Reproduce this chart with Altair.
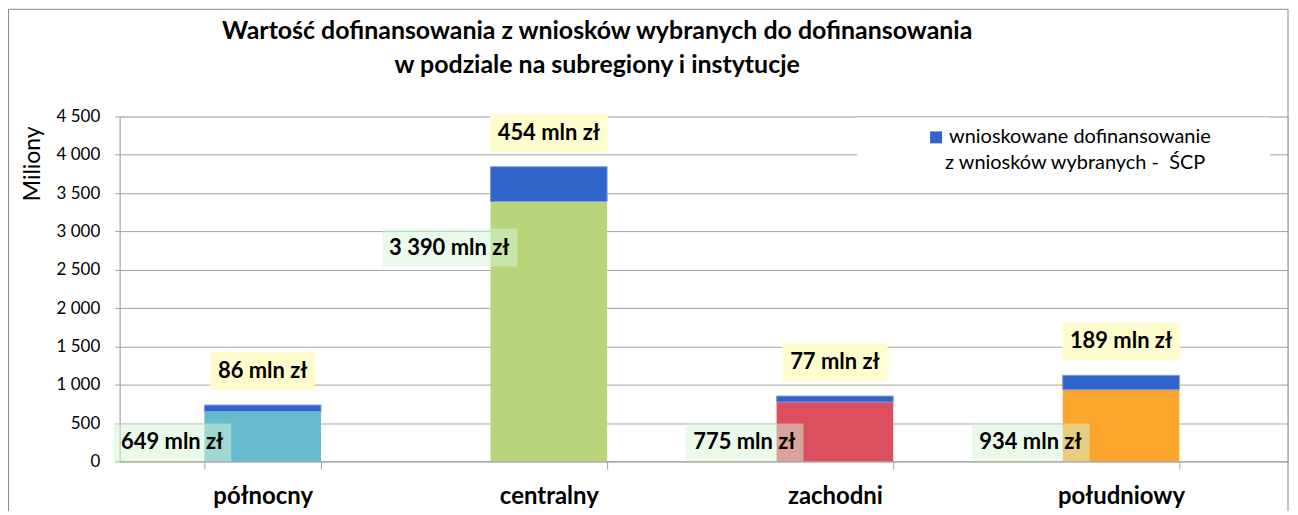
import altair as alt
import pandas as pd
import numpy as np

# ---------------- data ----------------
categories = ["północny", "centralny", "zachodni", "południowy"]
base_values = [649, 3390, 775, 934]      # mln zł
scp_values = [86, 454, 77, 189]          # wnioskowane dofinansowanie ŚCP, mln zł
y_ticks = [0, 500, 1000, 1500, 2000, 2500, 3000, 3500, 4000, 4500]

title_lines = ["Wartość dofinansowania z wniosków wybranych do dofinansowania",
               "w podziale na subregiony i instytucje"]
legend_lines = ["wnioskowane dofinansowanie", "z wniosków wybranych -\u00a0 ŚCP"]
y_title = "Miliony"

# ---------------- styles ----------------
palette = ["#67BACD", "#BAD47A", "#DC4F5F", "#FBA52C"]
BLUE = "#3164CB"
GRID = "#A3A3A3"
FONT = "Lato"
W, H = 1172, 346
LBL_SIZE = 22

# band layout: step 287 px, bars 117 px wide, first band boundary on the y axis
STEP, BAR_W = 287, 117
PAD_INNER = 1 - BAR_W / STEP
PAD_OUTER = (W / STEP - (len(categories) - PAD_INNER)) / 2
_left_over = W - STEP * (len(categories) - PAD_INNER)
ALIGN = (PAD_INNER * STEP / 2) / _left_over

CHAR_EM = {"m": 0.87, "l": 0.27, "n": 0.59, "z": 0.46, "ł": 0.31, " ": 0.2}


def text_w(s, size):
    return sum(CHAR_EM.get(c, 0.58) for c in s) * size


def fmt(v):
    return f"{v:,}".replace(",", " ") + " mln zł"


base = np.array(base_values)
scp = np.array(scp_values)
df = pd.DataFrame({
    "category": categories,
    "base": base,
    "top": base + scp,
    "base_lbl": [fmt(v) for v in base_values],
    "scp_lbl": [fmt(v) for v in scp_values],
})
df["base_anchor"] = np.where(df["base"] > 1500, df["base"] * 0.75, 0)

BOX_H = 38
b_right = -BAR_W / 2 + 27


def bottom_path(s):
    w = text_w(s, LBL_SIZE) + 16
    r, l = b_right, b_right - w
    return f"M{l:.1f},{-BOX_H}L{r:.1f},{-BOX_H}L{r:.1f},0L{l:.1f},0Z"


def top_path(s):
    w = text_w(s, LBL_SIZE) + 16
    l, r = -w / 2, w / 2
    return f"M{l:.1f},-53L{r:.1f},-53L{r:.1f},-15L{l:.1f},-15Z"


df["bpath"] = [bottom_path(s) for s in df["base_lbl"]]
df["tpath"] = [top_path(s) for s in df["scp_lbl"]]

x_axis = alt.Axis(labelAngle=0, labelFont=FONT, labelFontSize=24,
                  labelFontWeight="bold", labelColor="#000",
                  labelBaseline="alphabetic", labelPadding=34,
                  tickBand="extent", tickSize=8, tickColor=GRID,
                  domainColor=GRID, grid=False)
x_enc = alt.X("category:N", sort=categories, title=None,
              scale=alt.Scale(paddingInner=PAD_INNER, paddingOuter=PAD_OUTER,
                              align=ALIGN),
              axis=x_axis)
y_scale = alt.Scale(domain=[0, 4500], nice=False)
y_axis = alt.Axis(values=y_ticks, labelFont=FONT, labelFontSize=17,
                  labelColor="#000", labelPadding=15, labelOverlap=False,
                  labelExpr="replace(format(datum.value, ','), ',', ' ')",
                  tickSize=5, tickColor=GRID, domainColor=GRID,
                  gridColor=GRID, titleFont=FONT, titleFontSize=23,
                  titleFontWeight="normal", titleColor="#000",
                  titleX=-87, titleY=47, titleAngle=-90,
                  titleAlign="center", titleBaseline="middle")


def Y(field):
    return alt.Y(field, scale=y_scale, title=y_title, axis=y_axis)


bchart = alt.Chart(df)

base_bars = bchart.mark_bar().encode(
    x=x_enc,
    y=Y("base:Q"),
    y2=alt.datum(0),
    color=alt.Color("category:N", scale=alt.Scale(domain=categories, range=palette),
                    legend=None),
)

top_bars = bchart.mark_bar(color=BLUE, stroke="#7E9FE3", strokeWidth=1).encode(
    x=x_enc,
    y=Y("top:Q"),
    y2="base:Q",
)

bottom_boxes = bchart.mark_point(filled=True, color="#D6F6D6", opacity=0.5,
                                 strokeWidth=0).encode(
    x=x_enc,
    y=Y("base_anchor:Q"),
    shape=alt.Shape("bpath:N", scale=None),
    size=alt.value(4),
)

top_boxes = bchart.mark_point(filled=True, color="#FFFDCD", opacity=1,
                              strokeWidth=0).encode(
    x=x_enc,
    y=Y("top:Q"),
    shape=alt.Shape("tpath:N", scale=None),
    size=alt.value(4),
)

bottom_text = bchart.mark_text(font=FONT, fontSize=LBL_SIZE, fontWeight="bold",
                               color="#000", align="right", baseline="middle",
                               dx=b_right - 8, dy=-BOX_H / 2).encode(
    x=x_enc,
    y=Y("base_anchor:Q"),
    text="base_lbl:N",
)

top_text = bchart.mark_text(font=FONT, fontSize=LBL_SIZE, fontWeight="bold",
                            color="#000", align="center", baseline="middle",
                            dy=-34).encode(
    x=x_enc,
    y=Y("top:Q"),
    text="scp_lbl:N",
)

# ---- legend (drawn manually, single entry with two-line label) ----
leg_df = pd.DataFrame({"line": legend_lines, "row": [0, 1]})
leg_box = alt.Chart(leg_df.head(1)).mark_rect(color="white").encode(
    x=alt.value(740), x2=alt.value(1154), y=alt.value(1), y2=alt.value(74))
leg_sym = alt.Chart(leg_df.head(1)).mark_point(shape="square", filled=True,
                                               color=BLUE, opacity=1, size=144).encode(
    x=alt.value(819), y=alt.value(21))
leg_t1 = alt.Chart(leg_df.head(1)).mark_text(font=FONT, fontSize=20, align="left",
                                             baseline="middle", color="#000").encode(
    x=alt.value(832), y=alt.value(21), text="line:N")
leg_t2 = alt.Chart(leg_df.tail(1)).mark_text(font=FONT, fontSize=20, align="left",
                                             baseline="middle", color="#000").encode(
    x=alt.value(828), y=alt.value(47), text="line:N")

# ---- chart title (two centred lines) ----
title_df = pd.DataFrame({"line": title_lines, "row": [0, 1]})
title_t1 = alt.Chart(title_df.head(1)).mark_text(
    font=FONT, fontSize=25, fontWeight="bold", align="center",
    baseline="alphabetic", color="#000").encode(
    x=alt.value(479), y=alt.value(-78), text="line:N")
title_t2 = alt.Chart(title_df.tail(1)).mark_text(
    font=FONT, fontSize=25, fontWeight="bold", align="center",
    baseline="alphabetic", color="#000").encode(
    x=alt.value(479), y=alt.value(-44), text="line:N")

border = alt.Chart(leg_df.head(1)).mark_rect(fill=None, stroke="#8A8A8A",
                                             strokeWidth=1).encode(
    x=alt.value(-111.5), x2=alt.value(1172), y=alt.value(-107.5), y2=alt.value(1000))

chart = alt.layer(
    base_bars, top_bars, bottom_boxes, top_boxes, bottom_text, top_text,
    leg_box, leg_sym, leg_t1, leg_t2, title_t1, title_t2, border,
).properties(
    width=W, height=H,
    autosize=alt.AutoSizeParams(type="none"),
    padding={"left": 112, "top": 108, "right": 2, "bottom": 49},
).configure_view(stroke=None).configure(background="white")

chart.save("out.html", embed_options={"renderer": "svg", "actions": False})
